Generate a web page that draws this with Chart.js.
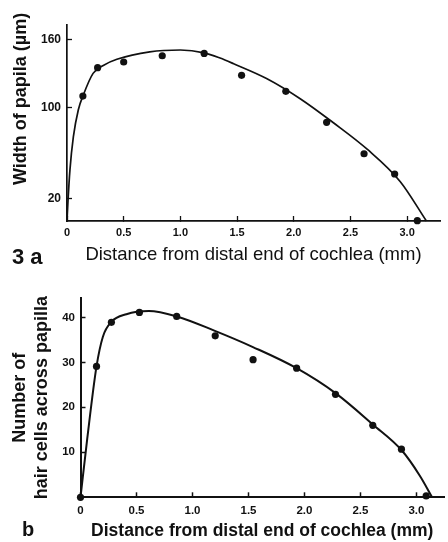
<!DOCTYPE html>
<html>
<head>
<meta charset="utf-8">
<title>Papilla width and hair cells</title>
<script src="https://cdn.jsdelivr.net/npm/chart.js@4.4.0/dist/chart.umd.min.js"></script>
<style>
html, body { margin: 0; padding: 0; background: #fff; }
#wrap { position: relative; width: 448px; height: 542px; }
canvas { position: absolute; left: 0; }
</style>
</head>
<body>
<div id="wrap">
  <canvas id="chartA" width="448" height="270" style="top:0"></canvas>
  <canvas id="chartB" width="448" height="272" style="top:270px"></canvas>
</div>
<script>
// 3a - width of papilla (um) along the cochlea
var widthDist = [0.14, 0.27, 0.50, 0.84, 1.21, 1.54, 1.93, 2.29, 2.62, 2.89, 3.09];
var widthVals = [110, 135, 140, 145.5, 147.6, 128.3, 114.2, 86.9, 59.2, 41.4, 0.3];
// fitted curve
var widthFitDist = [0, 0.009, 0.026, 0.056, 0.10, 0.144, 0.23, 0.32, 0.44, 0.73, 1.0, 1.21, 1.35, 1.47, 1.76, 2.06, 2.35, 2.65, 2.94, 3.17];
var widthFitVals = [0, 18, 45, 74, 98, 111, 130, 137, 142.4, 149, 150.6, 148.1, 143.5, 138.5, 125.5, 107.5, 86.5, 63, 34.6, 0];
var widthTicks = [20, 100, 160];

// b - number of hair cells across papilla
var cellDist = [0, 0.143, 0.276, 0.526, 0.859, 1.203, 1.541, 1.93, 2.277, 2.61, 2.866, 3.087];
var cellVals = [0, 29.1, 38.9, 41.1, 40.2, 35.9, 30.6, 28.7, 22.9, 16.0, 10.7, 0.3];
var cellFitDist = [0, 0.06, 0.143, 0.20, 0.276, 0.41, 0.61, 0.86, 1.2, 1.54, 1.93, 2.28, 2.61, 2.87, 3.03, 3.14];
var cellFitVals = [0, 13, 29.1, 35.7, 39, 40.7, 41.4, 40.2, 37.0, 33.4, 28.7, 23.1, 16.2, 10.4, 4.8, 0];
var cellTicks = [10, 20, 30, 40];

var distTicks = [0, 0.5, 1.0, 1.5, 2.0, 2.5, 3.0];

var FONT = '"Liberation Sans", Arial, Helvetica, sans-serif';
var INK = '#111';

Chart.defaults.color = INK;
Chart.defaults.font.family = FONT;

function pairs(xs, ys) {
    return xs.map(function (x, i) { return { x: x, y: ys[i] }; });
}

function fmtDist(v) {
    return v === 0 ? '0' : v.toFixed(1);
}

function fixedTicks(list) {
    return function (scale) {
        scale.ticks = list.map(function (v) { return { value: v }; });
    };
}

// extra text (panel letters, a title that sits off-centre)
var panelText = {
    id: 'panelText',
    afterDraw: function (chart, args, opts) {
        var ctx = chart.ctx;
        (opts.items || []).forEach(function (it) {
            ctx.save();
            ctx.translate(it.x, it.y);
            if (it.rotate) ctx.rotate(it.rotate);
            ctx.font = it.font;
            ctx.fillStyle = INK;
            ctx.textAlign = 'left';
            ctx.textBaseline = 'alphabetic';
            ctx.fillText(it.text, 0, 0);
            ctx.restore();
        });
    }
};

function datasets(fitX, fitY, ptX, ptY, lw) {
    return [{
        data: pairs(fitX, fitY),
        borderColor: INK,
        borderWidth: lw,
        pointRadius: 0,
        cubicInterpolationMode: 'monotone',
        clip: false,
        order: 2
    }, {
        data: pairs(ptX, ptY),
        showLine: false,
        backgroundColor: INK,
        borderColor: INK,
        pointRadius: 3.6,
        pointBorderWidth: 0,
        clip: false,
        order: 1
    }];
}

// ---- 3a
new Chart(document.getElementById('chartA'), {
    type: 'line',
    data: { datasets: datasets(widthFitDist, widthFitVals, widthDist, widthVals, 1.7) },
    options: {
        responsive: false,
        animation: false,
        events: [],
        layout: { padding: { top: 25, right: 8, left: 0, bottom: 0 } },
        plugins: {
            legend: { display: false },
            tooltip: { enabled: false },
            panelText: {
                items: [
                    { text: '3 a', x: 12, y: 264, font: 'bold 22px ' + FONT },
                    { text: 'Width of papila (\u00b5m)', x: 26, y: 185, rotate: -Math.PI / 2, font: 'bold 18px ' + FONT }
                ]
            }
        },
        scales: {
            x: {
                type: 'linear', min: 0, max: 3.29,
                afterBuildTicks: fixedTicks(distTicks),
                afterFit: function (s) { s.height = 49; },
                grid: { drawOnChartArea: false, tickLength: -5, tickWidth: 1.3, tickColor: INK },
                border: { color: INK, width: 1.7 },
                ticks: { padding: 10, autoSkip: false, maxRotation: 0, font: { size: 11, weight: 'bold' }, callback: fmtDist },
                title: { display: true, text: 'Distance from distal end of cochlea (mm)', font: { size: 18.5 }, padding: { top: 0, bottom: 4 } }
            },
            y: {
                type: 'linear', min: 0, max: 172.6,
                afterBuildTicks: fixedTicks(widthTicks),
                afterFit: function (s) { s.width = 67; },
                grid: { drawOnChartArea: false, tickLength: -5, tickWidth: 1.3, tickColor: INK },
                border: { color: INK, width: 1.7 },
                ticks: { padding: 11, font: { size: 12, weight: 'bold' } }
            }
        }
    },
    plugins: [panelText]
});

// ---- b
new Chart(document.getElementById('chartB'), {
    type: 'line',
    data: { datasets: datasets(cellFitDist, cellFitVals, cellDist, cellVals, 2) },
    options: {
        responsive: false,
        animation: false,
        events: [],
        layout: { padding: { top: 28, right: 0, left: 0, bottom: 0 } },
        plugins: {
            legend: { display: false },
            tooltip: { enabled: false },
            panelText: {
                items: [
                    { text: 'b', x: 22, y: 266, font: 'bold 20px ' + FONT }
                ]
            }
        },
        scales: {
            x: {
                type: 'linear', min: 0, max: 3.246,
                afterBuildTicks: fixedTicks(distTicks),
                afterFit: function (s) { s.height = 44.7; },
                grid: { drawOnChartArea: false, tickLength: -5, tickWidth: 1.5, tickColor: INK },
                border: { color: INK, width: 2 },
                ticks: { padding: 12, autoSkip: false, maxRotation: 0, font: { size: 11.5, weight: 'bold' }, callback: fmtDist },
                title: { display: true, text: 'Distance from distal end of cochlea (mm)', font: { size: 17.5, weight: 'bold' }, padding: { top: 0, bottom: 0 } }
            },
            y: {
                type: 'linear', min: 0, max: 44.3,
                afterBuildTicks: fixedTicks(cellTicks),
                afterFit: function (s) { s.width = 80.5; },
                grid: { drawOnChartArea: false, tickLength: -5, tickWidth: 1.5, tickColor: INK },
                border: { color: INK, width: 2 },
                ticks: { padding: 10.5, font: { size: 11.5, weight: 'bold' } },
                title: {
                    display: true,
                    text: ['Number of', 'hair cells across papilla'],
                    font: { size: 18, weight: 'bold', lineHeight: 1.17 },
                    padding: { top: 10, bottom: 0 }
                }
            }
        }
    },
    plugins: [panelText]
});
</script>
</body>
</html>
